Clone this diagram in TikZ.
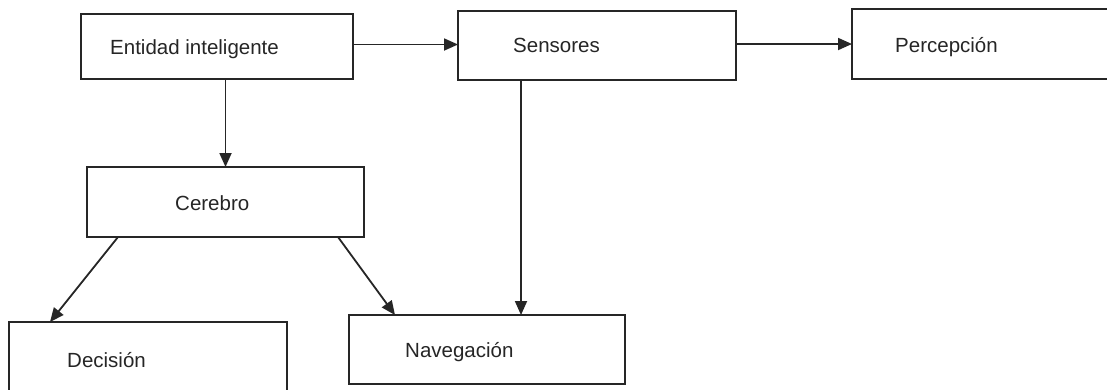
\documentclass[tikz,border=0pt]{standalone}
\usepackage{fontspec}
\setmainfont{Liberation Sans}
\usetikzlibrary{arrows.meta}
\definecolor{ink}{HTML}{262626}
\begin{document}
\begin{tikzpicture}[x=1pt,y=-1pt,
  box/.style={draw=ink,line width=1.8pt,rectangle,inner sep=0pt,outer sep=0pt},
  lbl/.style={inner sep=0pt,anchor=base west,text=ink,font=\fontsize{20.5}{24}\selectfont},
  arr/.style={draw=ink,line width=1.8pt,-{Triangle[length=14pt,width=12pt]}}]
  \fill[white] (0,0) rectangle (1107,389);
  \useasboundingbox (0,0) rectangle (1107,389);
  \clip (0,0) rectangle (1107,389);

  % boxes
  \node[box,minimum width=272pt,minimum height=65pt] (ent) at (217,46.5) {};
  \node[box,minimum width=278pt,minimum height=69pt] (sen) at (597,45.5) {};
  \node[box,minimum width=268pt,minimum height=70pt] (per) at (986,44) {};
  \node[box,minimum width=277pt,minimum height=70pt] (cer) at (225.5,202) {};
  \node[box,minimum width=278pt,minimum height=76pt] (dec) at (148,360) {};
  \node[box,minimum width=276pt,minimum height=69pt] (nav) at (487,349.5) {};

  % texts
  \node[lbl] (tent) at (110,54) {Entidad inteligente};
  \node[lbl] (tsen) at (513,52) {Sensores};
  \node[lbl] (tper) at (895,52) {Percepción};
  \node[lbl] (tcer) at (175,210) {Cerebro};
  \node[lbl] (tdec) at (67,367) {Decisión};
  \node[lbl] (tnav) at (405,357) {Navegación};

  % connectors
  \draw[arr] ([yshift=2pt]ent.east) -- ([yshift=2pt]ent.east -| sen.west);
  \draw[arr] ([yshift=1.5pt]sen.east) -- ([yshift=1.5pt]sen.east -| per.west);
  \draw[arr] (cer.north |- ent.south) -- (cer.north);
  \draw[arr] ([xshift=63pt]sen.south west) -- ([xshift=63pt]sen.south west |- nav.north);
  \draw[arr] ([xshift=31pt]cer.south west) -- ([xshift=41pt]dec.north west);
  \draw[arr] ([xshift=-26pt]cer.south east) -- ([xshift=46pt]nav.north west);
\end{tikzpicture}
\end{document}
